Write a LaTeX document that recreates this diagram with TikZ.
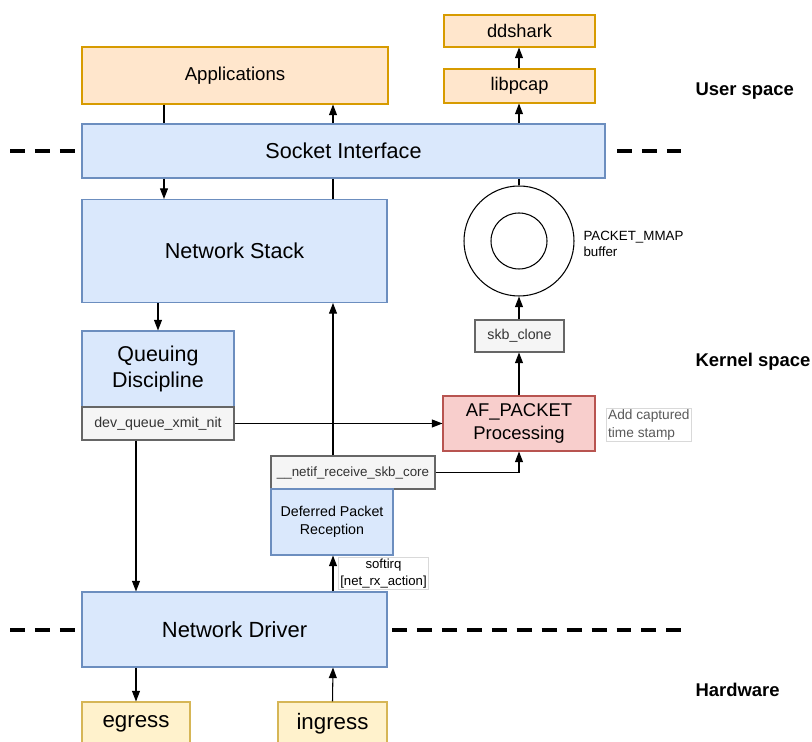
\documentclass[tikz,border=0pt]{standalone}
\usepackage{fontspec}
\setmainfont{Liberation Sans}
\usetikzlibrary{arrows.meta}

\definecolor{bluefill}{HTML}{DAE8FC}
\definecolor{blueline}{HTML}{6C8EBF}
\definecolor{orangefill}{HTML}{FFE6CC}
\definecolor{orangeline}{HTML}{D79B00}
\definecolor{grayfill}{HTML}{F5F5F5}
\definecolor{grayline}{HTML}{666666}
\definecolor{redfill}{HTML}{F8CECC}
\definecolor{redline}{HTML}{B85450}
\definecolor{yellowfill}{HTML}{FFF2CC}
\definecolor{yellowline}{HTML}{D6B656}

\tikzset{
  >={Triangle[length=6pt,width=4.5pt]},
  box/.style={draw, line width=0.6pt, inner sep=0pt, align=center},
  bluebox/.style={box, fill=bluefill, draw=blueline},
  userbox/.style={box, fill=orangefill, draw=orangeline, font=\fontsize{10.4}{12}\selectfont},
  callbox/.style={box, fill=grayfill, draw=grayline, text=black!80, font=\fontsize{8.1}{10}\selectfont},
  hwbox/.style={box, fill=yellowfill, draw=yellowline},
  spaceline/.style={line width=2.8pt, dash pattern=on 8.5pt off 5.7pt},
  spacelabel/.style={anchor=west, inner sep=0pt, font=\bfseries\fontsize{10.5}{12}\selectfont},
}

\begin{document}
\begin{tikzpicture}[x=0.02cm, y=-0.02cm, line width=0.6pt]
\clip (0,0) rectangle (812,742);

% layer boundaries
\draw[spaceline] (10,151) -- (75,151);
\draw[spaceline] (617,151) -- (681,151);
\draw[spaceline] (10,630) -- (75,630);
\draw[spaceline] (392,630) -- (681,630);

% user space
\node[userbox, minimum width=306*0.02cm, minimum height=57*0.02cm, font=\fontsize{10.6}{12}\selectfont] (apps) at (235,75.5) {Applications};
\node[userbox, minimum width=151*0.02cm, minimum height=32*0.02cm] (ddshark) at (519.5,31) {ddshark};
\node[userbox, minimum width=151*0.02cm, minimum height=34*0.02cm] (libpcap) at (519.5,86) {libpcap};

% kernel space
\node[bluebox, minimum width=523*0.02cm, minimum height=54*0.02cm, font=\fontsize{12.3}{14}\selectfont] (sock) at (343.5,151) {Socket Interface};
\node[bluebox, minimum width=305*0.02cm, minimum height=103*0.02cm, font=\fontsize{12.3}{14}\selectfont] (stack) at (234.5,251) {Network Stack};
\node[bluebox, minimum width=152*0.02cm, minimum height=76*0.02cm, font=\fontsize{12.2}{14.5}\selectfont] (qdisc) at (158,369) {Queuing\\Discipline};
\node[callbox, minimum width=152*0.02cm, minimum height=33*0.02cm] (xmit) at (158,423.5) {dev\_queue\_xmit\_nit};
\node[callbox, minimum width=164*0.02cm, minimum height=33*0.02cm, font=\fontsize{7.6}{9}\selectfont] (netif) at (353,472.5) {\_\_netif\_receive\_skb\_core};
\node[bluebox, minimum width=122*0.02cm, minimum height=66*0.02cm, font=\fontsize{8.1}{10.5}\selectfont] (defer) at (332,522) {Deferred Packet\\Reception};
\node[box, fill=redfill, draw=redline, minimum width=152*0.02cm, minimum height=55*0.02cm, font=\fontsize{10.5}{13}\selectfont] (afp) at (519,423.5) {AF\_PACKET\\Processing};
\node[callbox, minimum width=89*0.02cm, minimum height=32*0.02cm] (clone) at (519.5,336) {skb\_clone};

% ring buffer
\node[circle, draw, fill=white, minimum size=110*0.02cm, inner sep=0pt] (ring) at (519,241) {};
\node[circle, draw, minimum size=56*0.02cm, inner sep=0pt] (ringin) at (ring.center) {};
\node[anchor=west, align=left, inner sep=0pt, font=\fontsize{7.6}{9.5}\selectfont] (mmap) at (583,244) {PACKET\_MMAP\\buffer};
\node[anchor=west, align=left, draw=black!15, line width=0.4pt, inner sep=1pt, text=black!65, font=\fontsize{7.8}{9.8}\selectfont] (stamp) at (606,425) {Add captured\\time stamp};

% hardware
\node[bluebox, minimum width=305*0.02cm, minimum height=75*0.02cm, font=\fontsize{12.5}{14}\selectfont] (drv) at (234.5,629.5) {Network Driver};
\node[hwbox, minimum width=108*0.02cm, minimum height=58*0.02cm] (egress) at (136,731) {};
\node[hwbox, minimum width=109*0.02cm, minimum height=58*0.02cm] (ingress) at (332.5,731) {};
\node[font=\fontsize{12.7}{14}\selectfont] (egresstxt) at (136,724) {egress};
\node[font=\fontsize{12.7}{14}\selectfont] (ingresstxt) at (332.5,724) {ingress};

% lanes
\coordinate (down)   at (164,0);
\coordinate (up)     at (333,0);
\coordinate (tap)    at (519,0);
\coordinate (egr)    at (136,0);

% transmit path
\draw (apps.south -| down) -- (sock.north -| down);
\draw[->] (sock.south -| down) -- (stack.north -| down);
\draw[->] (stack.south -| qdisc) -- (qdisc.north);
\draw[->] (xmit.south -| egr) -- (drv.north -| egr);
\draw[->] (drv.south -| egr) -- (egress.north);

% receive path
\draw[->] (ingress.north) -- (drv.south -| up);
\draw[->] (drv.north -| up) -- (defer.south -| up);
\draw[->] (netif.north -| up) -- (stack.south -| up);
\draw (stack.north -| up) -- (sock.south -| up);
\draw[->] (sock.north -| up) -- (apps.south -| up);

% capture path
\draw[->] (xmit.east) -- (afp.west |- xmit.east);
\draw[->] (netif.east) -| (afp.south);
\draw[->] (afp.north) -- (clone.south -| afp);
\draw[->] (clone.north -| afp) -- (ring.south);
\draw (ring.north) -- (sock.south -| ring);
\draw[->] (sock.north -| tap) -- (libpcap.south -| tap);
\draw[->] (libpcap.north -| tap) -- (ddshark.south -| tap);

\node[draw=black!15, fill=white, line width=0.4pt, inner sep=1pt, align=center, font=\fontsize{7.5}{9.5}\selectfont] (irq) at (383.5,573.5) {softirq\\{}[net\_rx\_action]};

% space labels
\node[spacelabel] (userlbl) at (695,91) {User space};
\node[spacelabel] (kernlbl) at (695,362) {Kernel space};
\node[spacelabel] (hwlbl)   at (695,690) {Hardware};
\end{tikzpicture}
\end{document}
